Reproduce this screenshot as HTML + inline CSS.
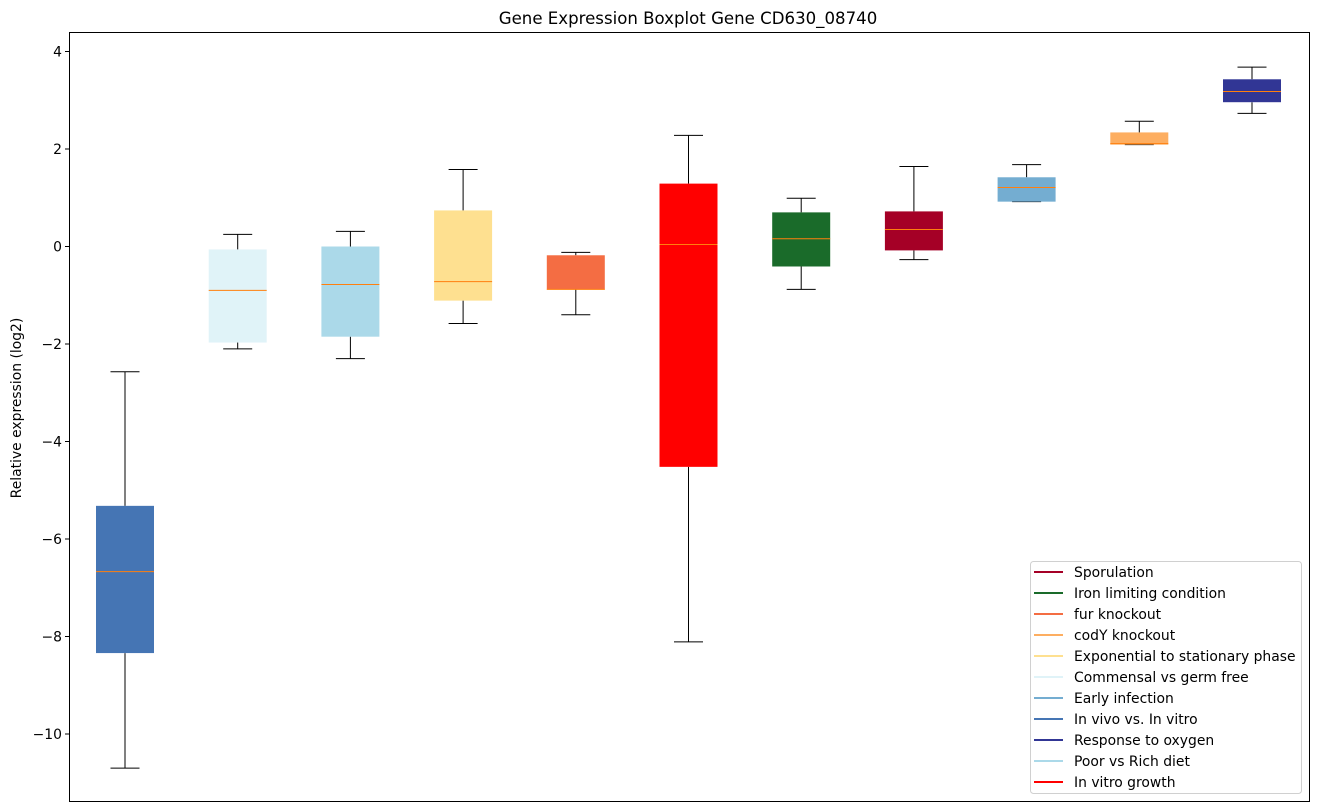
<!DOCTYPE html>
<html><head><meta charset="utf-8"><style>
html,body{margin:0;padding:0;background:#fff;}
svg{display:block;font-family:"DejaVu Sans","Liberation Sans",sans-serif;}
</style></head><body>
<svg id="chart" width="1318" height="812"></svg>
<script>
const categories=["In vivo vs. In vitro","Commensal vs germ free","Poor vs Rich diet","Exponential to stationary phase","fur knockout","In vitro growth","Iron limiting condition","Sporulation","Early infection","codY knockout","Response to oxygen"];
const colors=["#4575b4","#e0f3f8","#abd9e9","#fee090","#f46d43","#ff0000","#1a6b2a","#a50026","#74add1","#fdae61","#313695"];
const whiskLow=[-10.7,-2.1,-2.3,-1.58,-1.4,-8.11,-0.88,-0.27,0.92,2.09,2.73];
const q1=[-8.34,-1.97,-1.85,-1.11,-0.88,-4.52,-0.41,-0.08,0.92,2.09,2.96];
const med=[-6.67,-0.9,-0.78,-0.72,-0.88,0.04,0.16,0.35,1.21,2.11,3.18];
const q3=[-5.32,-0.06,0.0,0.74,-0.18,1.29,0.7,0.72,1.42,2.34,3.43];
const whiskHigh=[-2.57,0.25,0.31,1.58,-0.12,2.28,0.99,1.64,1.68,2.57,3.68];
const yTicks=[4,2,0,-2,-4,-6,-8,-10];
const yTickLabels=["4","2","0","\u22122","\u22124","\u22126","\u22128","\u221210"];
const legendLabels=["Sporulation","Iron limiting condition","fur knockout","codY knockout","Exponential to stationary phase","Commensal vs germ free","Early infection","In vivo vs. In vitro","Response to oxygen","Poor vs Rich diet","In vitro growth"];
const legendColors=["#a50026","#1a6b2a","#f46d43","#fdae61","#fee090","#e0f3f8","#74add1","#4575b4","#313695","#abd9e9","#ff0000"];

const svg=document.getElementById('chart');
const NS='http://www.w3.org/2000/svg';
const L=69,R=1309,T=32,B=801;
function y(v){return 246.5-v*48.75;}
function x(i){return 125+i*112.7;}
function mk(tag,attrs,parent){const e=document.createElementNS(NS,tag);for(const k in attrs)e.setAttribute(k,attrs[k]);(parent||svg).appendChild(e);return e;}

const title=mk('text',{x:688,y:24,'text-anchor':'middle','font-size':16.6,fill:'#000'});


title.textContent='Gene Expression Boxplot Gene CD630_08740';

const yl=mk('text',{x:0,y:0,transform:'translate(21,408) rotate(-90)','text-anchor':'middle','font-size':13.9,fill:'#000'});


yl.textContent='Relative expression (log2)';

const yAxis=mk('g',{});


yTicks.forEach((t,i)=>{
  mk('line',{x1:L-4,x2:L,y1:y(t),y2:y(t),stroke:'#000','stroke-width':1},yAxis);
  const tx=mk('text',{x:L-7,y:y(t)+5,'text-anchor':'end','font-size':13.9,fill:'#000'},yAxis);
  
  
  tx.textContent=yTickLabels[i];
});

categories.forEach((c,i)=>{
  const g=mk('g',{});
  
  
  const cx=x(i),w=58,cw=29;
  mk('line',{x1:cx,x2:cx,y1:y(whiskHigh[i]),y2:y(q3[i]),stroke:'#000'},g);
  mk('line',{x1:cx,x2:cx,y1:y(q1[i]),y2:y(whiskLow[i]),stroke:'#000'},g);
  mk('line',{x1:cx-cw/2,x2:cx+cw/2,y1:y(whiskHigh[i]),y2:y(whiskHigh[i]),stroke:'#000'},g);
  mk('line',{x1:cx-cw/2,x2:cx+cw/2,y1:y(whiskLow[i]),y2:y(whiskLow[i]),stroke:'#000'},g);
  mk('rect',{x:cx-w/2,y:y(q3[i]),width:w,height:Math.max(1,y(q1[i])-y(q3[i])),fill:colors[i]},g);
  mk('line',{x1:cx-w/2,x2:cx+w/2,y1:y(med[i]),y2:y(med[i]),stroke:'#ff7f0e','stroke-width':1},g);
});

mk('rect',{x:L+0.5,y:T+0.5,width:R-L,height:B-T,fill:'none',stroke:'#000','stroke-width':1});

const lg=mk('g',{});


mk('rect',{x:1030.5,y:561.5,width:271,height:232,rx:3,fill:'#fff',stroke:'#d0d0d0'},lg);
legendLabels.forEach((l,i)=>{
  const e=mk('g',{},lg);
  
  
  const yy=572+i*21;
  mk('line',{x1:1034,x2:1063,y1:yy,y2:yy,stroke:legendColors[i],'stroke-width':2},e);
  const t=mk('text',{x:1074,y:yy+5,'font-size':13.9,fill:'#000'},e);
  t.textContent=l;
});
</script>
</body></html>
